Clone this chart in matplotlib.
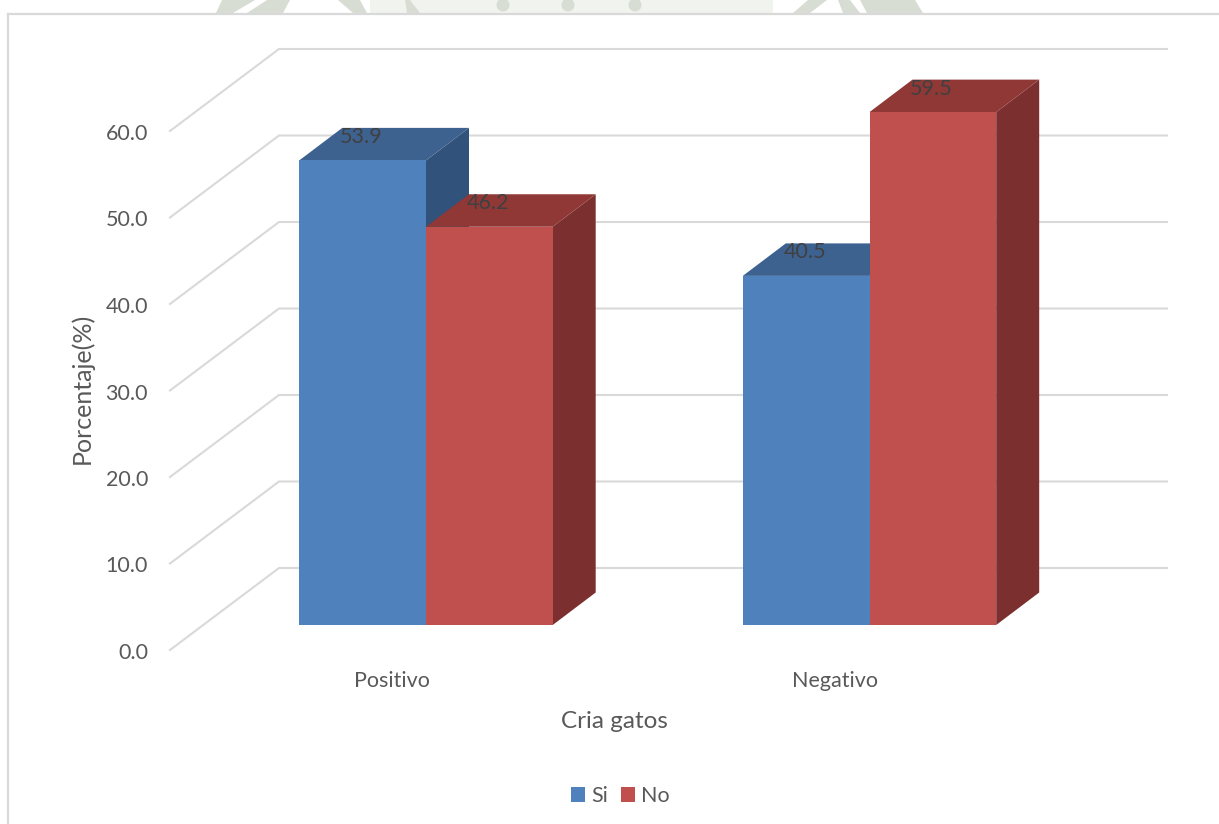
import matplotlib
matplotlib.use("Agg")
import matplotlib.pyplot as plt
from matplotlib.patches import Polygon, Patch, Rectangle, Ellipse

plt.rcParams['font.family'] = ['Lato', 'DejaVu Sans']

categories = ["Positivo", "Negativo"]
series_names = ["Si", "No"]
si_values = [53.9, 40.5]
no_values = [46.2, 59.5]
y_ticks = [0, 10, 20, 30, 40, 50, 60]
x_title = "Cria gatos"
y_title = "Porcentaje(%)"

W, H = 1219, 824
BASE_PX = 625.0      # pixel row of value 0 on the bar front plane
PX_PER_UNIT = 8.62
WALL_SCALE = 8.65 / 8.62
ORIGIN_PX = 426.0    # pixel column of first category centre
PX_PER_CAT = 443.5


def dx(px):
    return px / PX_PER_CAT


def dy(px):
    return px / PX_PER_UNIT


def to_data(px, py):
    return (dx(px - ORIGIN_PX), dy(BASE_PX - py))


fig = plt.figure(figsize=(W / 100, H / 100), dpi=100, facecolor="white")
ax = fig.add_axes([0, 0, 1, 1])
ax.set_xlim(-ORIGIN_PX / PX_PER_CAT, (W - ORIGIN_PX) / PX_PER_CAT)
ax.set_ylim((BASE_PX - H) / PX_PER_UNIT, BASE_PX / PX_PER_UNIT)
ax.axis("off")

GRID = "#D9D9D9"
TEXT = "#595959"
LABEL = "#404040"
FS = 15.5

# faint page watermark showing above the chart frame
wm_dark = "#D8DDD4"
ax.add_patch(Polygon([to_data(*p) for p in [(370, 0), (773, 0), (773, 13), (370, 13)]],
                     closed=True, fc="#F1F3EF", ec="none", zorder=0))
for poly in ([(216, 13), (233, 13), (255, 0), (222, 0)],
             [(247, 13), (283, 13), (290, 0), (267, 0)],
             [(353, 13), (367, 13), (360, 0), (338, 0)],
             [(407, 13), (420, 13), (410, 0), (405, 0)],
             [(793, 13), (810, 13), (827, 0), (808, 0)],
             [(843, 13), (860, 13), (850, 0), (838, 0)],
             [(867, 13), (923, 13), (915, 0), (860, 0)]):
    ax.add_patch(Polygon([to_data(*p) for p in poly], closed=True, fc=wm_dark, ec="none", zorder=0))
for cx in (503, 568, 635):
    ax.add_patch(Ellipse(to_data(cx, 5), dx(13), dy(13), fc=wm_dark, ec="none", zorder=0))

# chart frame
ax.plot([dx(8 - ORIGIN_PX)] * 2, [dy(BASE_PX - H), dy(BASE_PX - 14)], color=GRID, lw=1.6, zorder=1)
ax.plot([dx(8 - ORIGIN_PX), dx(W - ORIGIN_PX)], [dy(BASE_PX - 14)] * 2, color=GRID, lw=1.6, zorder=1)

# gridlines: floor/side diagonal then back wall
x_front = dx(170 - ORIGIN_PX)
x_back = dx(279 - ORIGIN_PX)
x_end = dx(1167 - ORIGIN_PX)
front_off = dy(-25)
back_off = dy(57)
for t in y_ticks:
    tv = t * WALL_SCALE
    ax.plot([x_front, x_back, x_end], [tv + front_off, tv + back_off, tv + back_off],
            color=GRID, lw=1.5, zorder=2, solid_joinstyle="miter")
    ax.text(dx(148 - ORIGIN_PX), tv + front_off - dy(3), f"{t:.1f}", ha="right", va="center",
            fontsize=FS, color=TEXT, zorder=6)

bar_w = dx(126.7)
depth_x = dx(43)
depth_y = dy(32.5)

styles = [("#4F81BD", "#3E6290", "#30527B"), ("#C0504D", "#8F3836", "#7B302F")]
series = [si_values, no_values]

for s, (vals, (front, top, side)) in enumerate(zip(series, styles)):
    for c, v in enumerate(vals):
        x0 = c + (s - 1) * bar_w
        x1 = x0 + bar_w
        z = 3 + s * 0.1
        ax.add_patch(Polygon([(x1, 0), (x1 + depth_x, depth_y), (x1 + depth_x, v + depth_y), (x1, v)],
                             closed=True, fc=side, ec="none", zorder=z))
        ax.add_patch(Polygon([(x0, v), (x0 + depth_x, v + depth_y), (x1 + depth_x, v + depth_y), (x1, v)],
                             closed=True, fc=top, ec="none", zorder=z))
        ax.add_patch(Polygon([(x0, 0), (x1, 0), (x1, v), (x0, v)],
                             closed=True, fc=front, ec="none", zorder=z + 0.05))
        ax.text((x0 + x1) / 2 - dx(1.5), v + dy(23.5), f"{v:.1f}", ha="center", va="center",
                fontsize=FS, color=LABEL, zorder=6)

for c, name in enumerate(categories):
    ax.text(c - dx(34), dy(BASE_PX - 681), name, ha="center", va="center", fontsize=15.5, color=TEXT)

ax.text(dx(614 - ORIGIN_PX), dy(BASE_PX - 722), x_title, ha="center", va="center", fontsize=17.5, color=TEXT)
ax.text(dx(82 - ORIGIN_PX), dy(BASE_PX - 388), y_title, ha="center", va="center", rotation=90,
        fontsize=18, color=TEXT)

handles = [Patch(fc=styles[i][0], ec="none", label=series_names[i]) for i in range(2)]
ax.legend(handles=handles, ncol=2, frameon=False, loc="center",
          bbox_to_anchor=(dx(620.5 - ORIGIN_PX), dy(BASE_PX - 796)), bbox_transform=ax.transData,
          fontsize=FS, labelcolor=TEXT, handlelength=0.65, handleheight=0.65,
          handletextpad=0.3, columnspacing=0.56, borderpad=0, borderaxespad=0)

fig.savefig("out.png", dpi=100, facecolor="white")
